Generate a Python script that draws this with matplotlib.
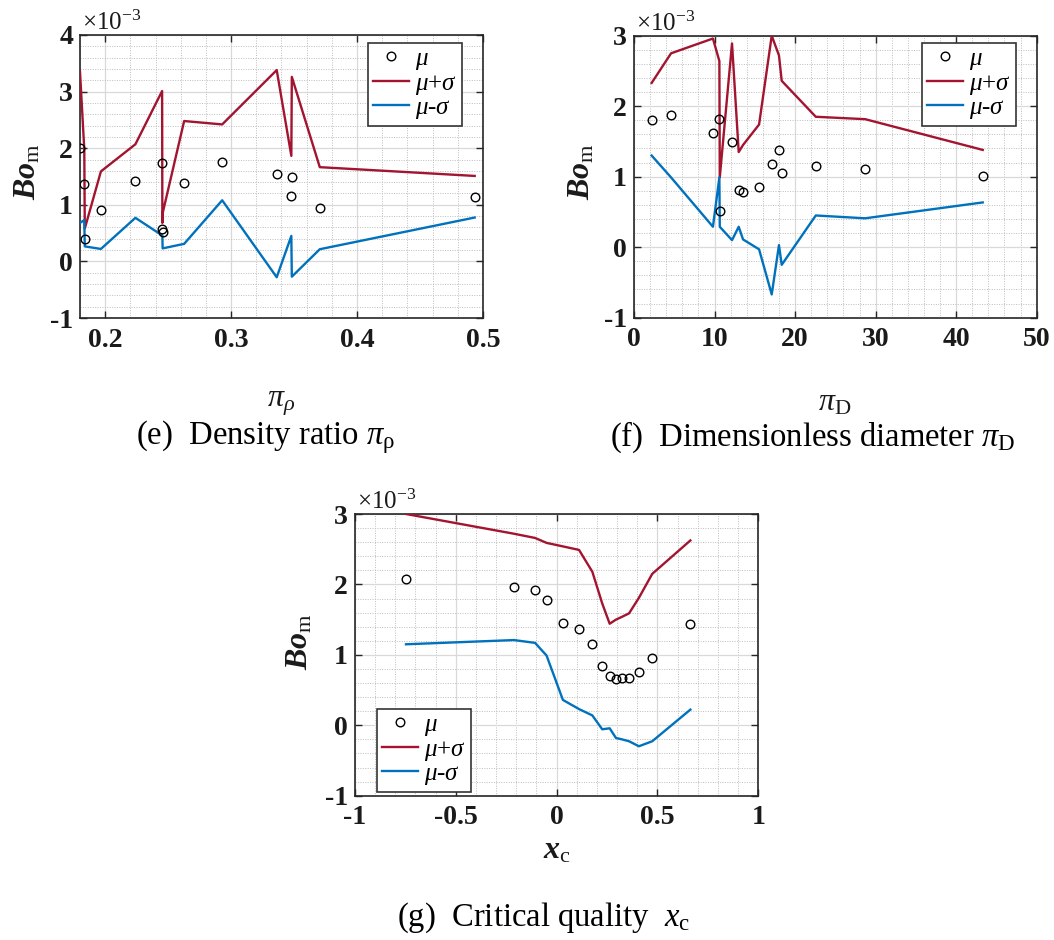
import matplotlib
matplotlib.use("Agg")
import matplotlib.pyplot as plt
from matplotlib.ticker import MultipleLocator, FixedLocator, FuncFormatter

plt.rcParams.update({
    "font.family": ["Liberation Serif", "DejaVu Serif"],
    "mathtext.fontset": "custom",
    "mathtext.rm": "Liberation Serif",
    "mathtext.it": "Liberation Serif:italic",
    "mathtext.bf": "Liberation Serif:bold",
    "mathtext.bfit": "Liberation Serif:italic:bold",
    "mathtext.sf": "Liberation Serif",
    "axes.unicode_minus": False,
})

# Bo_m statistics, all values in units of 1e-3
# (e) density ratio
pi_rho = [0.1800, 0.1834, 0.1838, 0.1966, 0.2240, 0.2452, 0.2454, 0.2456,
          0.2627, 0.2929, 0.3362, 0.3478, 0.3482, 0.3704, 0.4934]
mu_e = [2.00, 1.365, 0.40, 0.90, 1.42, 1.73, 0.57, 0.52,
        1.39, 1.75, 1.55, 1.16, 1.49, 0.935, 1.14]
upper_e = [3.35, 1.98, 0.58, 1.59, 2.07, 3.01, 0.68, 0.85,
           2.48, 2.42, 3.38, 1.865, 3.26, 1.665, 1.51]
lower_e = [0.68, 0.73, 0.265, 0.22, 0.77, 0.46, 0.46, 0.23,
           0.31, 1.08, -0.28, 0.45, -0.27, 0.215, 0.775]

# (f) dimensionless diameter
pi_D = [2.19, 4.6, 9.8, 10.6, 10.65, 12.17, 13.0, 13.54,
        15.53, 17.1, 18.0, 18.34, 22.57, 28.7, 43.3]
mu_f = [1.81, 1.877, 1.62, 1.815, 0.51, 1.494, 0.818, 0.78,
        0.856, 1.177, 1.376, 1.054, 1.149, 1.11, 1.007]
upper_f = [2.33, 2.75, 2.96, 2.64, 0.99, 2.89, 1.35, 1.45,
           1.74, 3.00, 2.72, 2.36, 1.85, 1.816, 1.38]
lower_f = [1.30, 0.99, 0.29, 0.99, 0.29, 0.10, 0.29, 0.11,
           -0.03, -0.67, 0.03, -0.25, 0.45, 0.41, 0.635]

# (g) critical quality
x_c = [-0.747, -0.212, -0.107, -0.050, 0.031, 0.111, 0.177, 0.226,
       0.263, 0.294, 0.324, 0.359, 0.408, 0.474, 0.663]
mu_g = [2.08, 1.96, 1.915, 1.78, 1.447, 1.362, 1.158, 0.837,
        0.70, 0.662, 0.667, 0.676, 0.756, 0.955, 1.433]
upper_g = [3.00, 2.72, 2.66, 2.59, 2.54, 2.49, 2.18, 1.73,
           1.442, 1.50, 1.54, 1.589, 1.81, 2.15, 2.624]
lower_g = [1.15, 1.21, 1.17, 0.99, 0.36, 0.23, 0.14, -0.057,
           -0.043, -0.18, -0.20, -0.227, -0.298, -0.227, 0.222]

RED = "#A2142F"
BLUE = "#0072BD"
EDGE = "#262626"
W, H = 1054, 940

fig = plt.figure(figsize=(W / 100, H / 100), dpi=100)


def fx(px):
    return px / W


def fy(py):
    return 1 - py / H


def make_axes(left, top, right, bottom):
    return fig.add_axes([fx(left), fy(bottom), fx(right - left), (bottom - top) / H])


def fmt(v, pos):
    return "%g" % v


def draw(ax, x, mu, up, lo, xlim, ylim, xticks, xminor, legend_anchor, legend_loc):
    ax.plot(x, mu, linestyle="none", marker="o", markersize=6.2,
            markerfacecolor="none", markeredgecolor="black", markeredgewidth=1.0,
            label=r"$\mu$", zorder=4)
    ax.plot(x, up, color=RED, lw=1.7, label=r"$\mu$+$\sigma$", zorder=3)
    ax.plot(x, lo, color=BLUE, lw=1.7, label=r"$\mu$-$\sigma$", zorder=3)
    ax.set_xlim(*xlim)
    ax.set_ylim(*ylim)
    ax.xaxis.set_major_locator(FixedLocator(xticks))
    ax.yaxis.set_major_locator(MultipleLocator(1))
    ax.xaxis.set_minor_locator(MultipleLocator(xminor))
    ax.yaxis.set_minor_locator(MultipleLocator(0.2))
    ax.xaxis.set_major_formatter(FuncFormatter(fmt))
    ax.yaxis.set_major_formatter(FuncFormatter(fmt))
    ax.grid(which="major", color="#d9d9d9", lw=0.9, linestyle="-", zorder=0)
    ax.grid(which="minor", color="#bdbdbd", lw=0.7, linestyle=(0, (1, 1.5)), zorder=0)
    ax.set_axisbelow(True)
    ax.tick_params(which="major", direction="in", length=5, width=1.0,
                   top=True, right=True, colors=EDGE, labelsize=20)
    ax.tick_params(axis="x", which="major", pad=7)
    ax.tick_params(axis="y", which="major", pad=5)
    ax.tick_params(which="minor", length=0)
    for lab in ax.get_xticklabels() + ax.get_yticklabels():
        lab.set_fontweight("bold")
        lab.set_color("#1a1a1a")
    for s in ax.spines.values():
        s.set_color(EDGE)
        s.set_linewidth(1.2)
    ax.text(0.005, 1.0, r"$\times10^{-3}$", transform=ax.transAxes,
            ha="left", va="bottom", fontsize=18, color="#1a1a1a")
    leg = ax.legend(loc=legend_loc, bbox_to_anchor=legend_anchor,
                    bbox_transform=fig.transFigure, borderaxespad=0,
                    fontsize=18, frameon=True, fancybox=False, framealpha=1,
                    edgecolor="#333333", handlelength=1.45, handletextpad=0.25,
                    borderpad=0.2, labelspacing=0.0)
    leg.get_frame().set_linewidth(1.2)


# (e)
ax_e = make_axes(80, 35, 483, 318)
draw(ax_e, pi_rho, mu_e, upper_e, lower_e, (0.18, 0.5), (-1, 4),
     [0.2, 0.3, 0.4, 0.5], 0.02, (fx(462), fy(42.7)), "upper right")

# (f)
ax_f = make_axes(634, 35.7, 1036.7, 317.7)
draw(ax_f, pi_D, mu_f, upper_f, lower_f, (0, 50), (-1, 3),
     [0, 10, 20, 30, 40, 50], 2, (fx(1016), fy(42.7)), "upper right")

# (g)
ax_g = make_axes(355, 514, 758.3, 795.7)
draw(ax_g, x_c, mu_g, upper_g, lower_g, (-1, 1), (-1, 3),
     [-1, -0.5, 0, 0.5, 1], 0.1, (fx(376.7), fy(708.7)), "upper left")

# axis labels
ylab = r"$\mathbfit{Bo}_{\mathrm{m}}$"
for (px, py) in [(28, 172), (582, 172), (300, 642)]:
    fig.text(fx(px), fy(py), ylab, rotation=90, ha="center", va="center",
             fontsize=23, color="#1a1a1a")

fig.text(fx(281), fy(403), r"$\pi_{\rho}$", ha="center", va="center",
         fontsize=23, color="#1a1a1a")
fig.text(fx(835), fy(403), r"$\pi_{\mathrm{D}}$", ha="center", va="center",
         fontsize=23, color="#1a1a1a")
fig.text(fx(557), fy(851), r"$\mathbfit{x}_{\mathrm{c}}$", ha="center", va="center",
         fontsize=23, color="#1a1a1a")

# panel captions
fig.text(fx(265), fy(437), r"(e)  Density ratio $\pi_{\mathrm{\rho}}$",
         ha="center", va="center", fontsize=23.5)
fig.text(fx(813), fy(437), r"(f)  Dimensionless diameter $\pi_{\mathrm{D}}$",
         ha="center", va="center", fontsize=23.5)
fig.text(fx(544), fy(918), r"(g)  Critical quality  $x_{\mathrm{c}}$",
         ha="center", va="center", fontsize=23.5)

fig.savefig("out.png", dpi=100, facecolor="white")
